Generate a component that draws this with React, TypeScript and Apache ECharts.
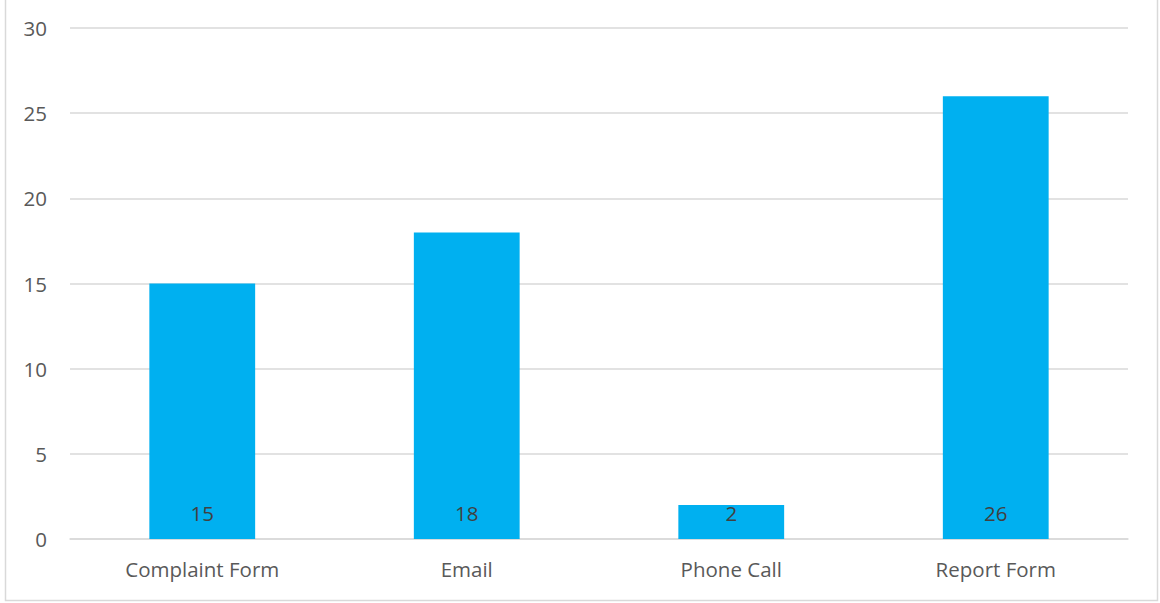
import React, { useEffect, useRef } from "react";
import * as echarts from "echarts";

const categories = ["Complaint Form", "Email", "Phone Call", "Report Form"];
const values = [15, 18, 2, 26];
const yMin = 0;
const yMax = 30;
const yInterval = 5;

export default function App() {
  const ref = useRef<HTMLDivElement>(null);
  useEffect(() => {
    if (!ref.current) return;
    const chart = echarts.init(ref.current, undefined, { renderer: "svg" });
    chart.setOption({
      animation: false,
      backgroundColor: "#ffffff",
      textStyle: { fontFamily: "'Open Sans', sans-serif" },
      graphic: [
        {
          type: "rect",
          shape: { x: 5.5, y: -1, width: 1152, height: 601.5 },
          style: { fill: "none", stroke: "#d9d9d9", lineWidth: 1.5 },
          silent: true,
        },
      ],
      grid: { left: 70, right: 32, top: 28, bottom: 64, containLabel: false },
      xAxis: {
        type: "category",
        data: categories,
        axisTick: { show: false },
        axisLine: { lineStyle: { color: "#d9d9d9", width: 1.5 } },
        axisLabel: { color: "#595959", fontSize: 20.5, margin: 19 },
      },
      yAxis: {
        type: "value",
        min: yMin,
        max: yMax,
        interval: yInterval,
        axisLine: { show: false },
        axisTick: { show: false },
        splitLine: { lineStyle: { color: "#d9d9d9", width: 1.5 } },
        axisLabel: { color: "#595959", fontSize: 20.5, margin: 23 },
      },
      series: [
        {
          type: "bar",
          data: values,
          barWidth: "40%",
          itemStyle: { color: "#00B0F0" },
          label: {
            show: true,
            position: "insideBottom",
            distance: 16,
            color: "#404040",
            fontSize: 20.5,
          },
        },
      ],
    });
    return () => chart.dispose();
  }, []);
  return (
    <div
      ref={ref}
      style={{ position: "fixed", left: 0, top: 0, width: 1160, height: 603 }}
    />
  );
}
